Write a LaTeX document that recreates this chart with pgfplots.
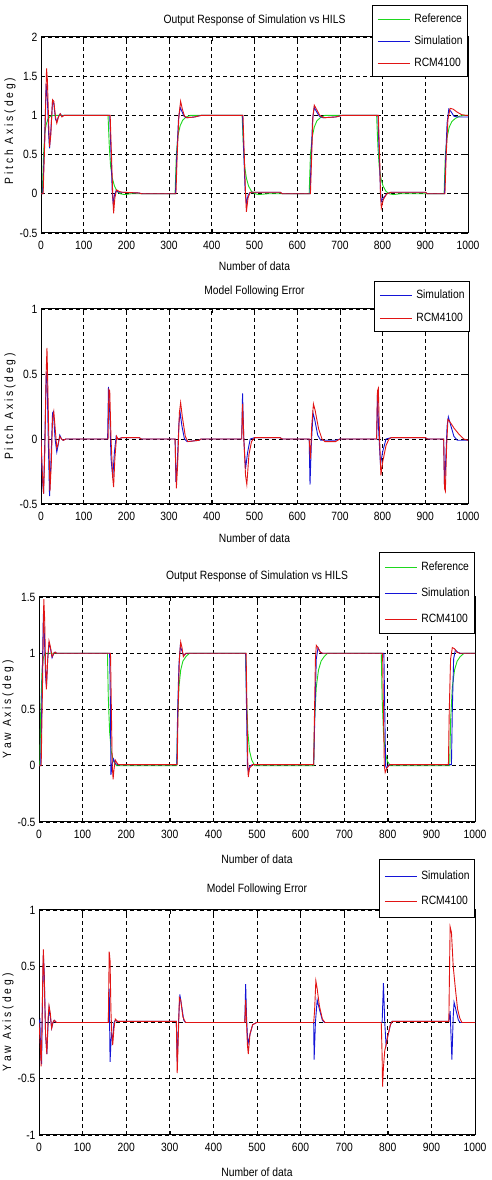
\documentclass[border=0pt]{standalone}
\usepackage{fontspec}
\setmainfont{Liberation Sans}[FakeStretch=0.86]
\usepackage{pgfplots}
\pgfplotsset{compat=1.18}

\definecolor{refg}{RGB}{30,215,30}
\definecolor{simb}{RGB}{20,20,215}
\definecolor{rcmr}{RGB}{225,20,20}

\pgfplotsset{
  panel/.style={
    scale only axis,
    xmin=0, xmax=1000,
    xtick={0,100,...,1000},
    grid=major,
    major grid style={black, dash pattern=on 4pt off 3pt, line width=0.7pt},
    axis line style={line width=1pt},
    tick style={black, line width=0.6pt},
    tick align=inside,
    major tick length=4pt,
    font=\fontsize{12}{14}\selectfont,
    /pgf/number format/assume math mode=true,
    /pgf/number format/1000 sep={},
    xticklabel style={yshift=-5pt},
    xlabel={Number of data},
    xlabel style={at={(axis description cs:0.5,0)}, anchor=center},
    ylabel style={anchor=center},
    title style={at={(axis description cs:0.5,1)}, anchor=center},
    every axis plot/.append style={line width=0.9pt},
    legend cell align=left,
    legend image code/.code={\draw[#1] (0pt,0pt) -- (32pt,0pt);},
    legend style={at={(axis description cs:1,1)}, anchor=north east,
      draw=black, line width=1pt, fill=white,
      inner xsep=5pt, column sep=4pt,
      font=\fontsize{12}{14}\selectfont,
      nodes={inner sep=0pt, text height=9pt, text depth=2pt}},
  }
}

\begin{document}
\begin{tikzpicture}
\useasboundingbox (0,0) rectangle (492pt,1180pt);

% ---------------- Pitch: output response ----------------
\begin{axis}[panel,
  at={(41pt,947pt)}, anchor=south west,
  width=427pt, height=196pt,
  ymin=-0.5, ymax=2, ytick={-0.5,0,0.5,1,1.5,2},
  title={Output Response of Simulation vs HILS}, title style={yshift=11pt},
  xlabel style={yshift=-33pt},
  ylabel={P i t c h \ A x i s ( d e g )},
  ylabel style={at={(axis description cs:-0.0726,0.52)}},
  legend style={yshift=32pt, inner ysep=8pt, row sep=11pt}]
\addplot[refg] coordinates {
(0,0) (3,0) (6,0.5) (9,0.78) (12,0.88) (16,0.95) (22,0.99) (30,1) (157,1) (160,0.6)
(163,0.35) (167,0.2) (172,0.1) (178,0.03) (186,0) (195,-0.01) (210,0) (314,0) (317,0.5)
(321,0.75) (326,0.87) (332,0.94) (340,0.98) (350,1) (471,1) (474,0.6) (477,0.35) (481,0.2)
(486,0.1) (493,0.03) (502,0) (510,-0.01) (530,0) (628,0) (631,0.5) (635,0.72) (640,0.85)
(646,0.93) (654,0.97) (665,1) (786,1) (789,0.6) (792,0.35) (796,0.2) (801,0.1) (808,0.03)
(816,0) (825,-0.01) (840,0) (944,0) (947,0.5) (951,0.72) (956,0.85) (962,0.92) (970,0.96)
(980,0.99) (990,1) (1000,1)};
\addplot[simb] coordinates {
(0,0) (4,0) (8,0.6) (12,1.4) (15,1.2) (18,0.75) (20,0.58) (23,0.8) (27,1.18) (30,1.15)
(34,0.95) (37,0.92) (41,0.99) (45,1.02) (49,0.99) (54,1.0) (161,1) (164,0.5) (167,0.0)
(169,-0.12) (172,-0.02) (176,0.04) (182,0.02) (190,0.02) (230,0.01) (236,0) (315,0)
(318,0.5) (322,0.95) (326,1.1) (330,1.05) (335,0.99) (340,0.97) (360,0.98) (375,1.0)
(472,1) (475,0.5) (478,0.05) (481,-0.12) (485,-0.02) (490,0.02) (560,0.02) (565,0)
(630,0) (633,0.5) (636,0.95) (640,1.1) (645,1.05) (652,0.99) (660,0.97) (690,0.98)
(705,1) (789,1) (792,0.5) (795,0.05) (797,-0.1) (802,-0.05) (810,0) (820,0.02) (900,0.02)
(905,0) (945,0) (948,0.5) (951,0.9) (955,1.08) (960,1.05) (967,0.99) (975,0.98) (1000,0.98)};
\addplot[rcmr] coordinates {
(0,0) (5,0) (9,0.7) (13,1.6) (15,1.45) (18,0.9) (20,0.6) (23,0.75) (27,1.2) (30,1.18)
(34,0.98) (37,0.9) (41,0.98) (45,1.02) (49,0.98) (54,1.0) (162,1) (165,0.5) (168,0.0)
(170,-0.25) (173,-0.05) (177,0.05) (183,0.03) (190,0.02) (230,0.01) (236,0) (316,0)
(319,0.5) (323,1.0) (327,1.18) (331,1.08) (336,0.99) (342,0.97) (360,0.98) (375,1.0)
(473,1) (476,0.5) (479,0.0) (481,-0.23) (485,-0.05) (490,0.02) (560,0.02) (565,0)
(631,0) (634,0.5) (637,1.0) (640,1.13) (646,1.07) (653,1.0) (662,0.97) (690,0.98)
(705,1) (790,1) (793,0.5) (795,0.0) (797,-0.18) (802,-0.07) (810,0) (820,0.02) (900,0.02)
(905,0) (946,0) (949,0.5) (953,0.95) (958,1.09) (965,1.08) (975,1.04) (985,1.01)
(995,1.0) (1000,1.0)};
\legend{Reference, Simulation, RCM4100}
\end{axis}

% ---------------- Pitch: model following error ----------------
\begin{axis}[panel,
  at={(41pt,676pt)}, anchor=south west,
  width=427pt, height=195pt,
  ymin=-0.5, ymax=1, ytick={-0.5,0,0.5,1},
  title={Model Following Error}, title style={yshift=12pt},
  xlabel style={yshift=-34pt},
  ylabel={P i t c h \ A x i s ( d e g )},
  ylabel style={at={(axis description cs:-0.0726,0.5)}},
  legend style={yshift=28pt, xshift=2pt, inner ysep=8pt, row sep=12pt}]
\addplot[simb] coordinates {
(0,0) (3,-0.3) (6,-0.42) (9,0.0) (12,0.48) (14,0.52) (17,0.0) (20,-0.44) (23,-0.2)
(27,0.2) (29,0.21) (33,0.0) (37,-0.1) (40,-0.05) (44,0.03) (48,0.0) (52,-0.01) (58,0)
(156,0) (158,0.4) (161,0.2) (164,-0.15) (168,-0.3) (172,-0.1) (176,0.02) (180,0.0)
(190,0.01) (230,0.01) (235,0) (314,0) (316,-0.33) (319,-0.2) (323,0.12) (326,0.2)
(330,0.1) (336,0.0) (342,-0.02) (370,-0.01) (375,0) (470,0) (472,0.35) (475,0.0)
(479,-0.23) (484,-0.1) (490,0) (500,0.01) (560,0.01) (565,0) (628,0) (630,-0.35)
(633,-0.05) (637,0.2) (641,0.15) (648,0.03) (655,-0.01) (690,-0.01) (700,0) (786,0)
(788,0.35) (791,0.05) (795,-0.2) (800,-0.1) (808,0) (820,0.01) (900,0.01) (905,0)
(943,0) (945,-0.38) (948,-0.15) (951,0.1) (954,0.17) (960,0.1) (967,0.02) (975,-0.01)
(1000,-0.01)};
\addplot[rcmr] coordinates {
(0,0) (3,-0.25) (6,-0.42) (9,-0.1) (12,0.5) (14,0.7) (16,0.4) (19,-0.1) (21,-0.4)
(24,-0.2) (27,0.15) (30,0.21) (34,0.05) (37,-0.07) (40,-0.04) (44,0.02) (48,0.0)
(52,-0.01) (58,0) (157,0) (159,0.38) (161,0.37) (164,0.0) (168,-0.3) (170,-0.37)
(173,-0.15) (177,0.02) (180,0.0) (190,0.01) (230,0.01) (235,0) (314,0) (317,-0.38)
(320,-0.2) (324,0.2) (327,0.28) (331,0.17) (338,0.02) (344,-0.02) (370,-0.01) (375,0)
(470,0) (472,0.27) (475,0.0) (479,-0.28) (482,-0.35) (487,-0.12) (493,-0.02) (500,0.01)
(560,0.01) (565,0) (628,0) (631,-0.15) (634,0.1) (638,0.27) (642,0.22) (650,0.08)
(658,0.0) (665,-0.02) (690,-0.02) (700,0) (786,0) (788,0.37) (790,0.39) (793,0.0)
(796,-0.28) (800,-0.18) (808,-0.05) (815,0.0) (820,0.01) (900,0.01) (905,0) (943,0)
(945,-0.38) (947,-0.4) (950,-0.05) (953,0.15) (958,0.13) (968,0.08) (978,0.04) (990,0.0)
(1000,-0.01)};
\legend{Simulation, RCM4100}
\end{axis}

% ---------------- Yaw: output response ----------------
\begin{axis}[panel,
  at={(39pt,358pt)}, anchor=south west,
  width=436pt, height=225pt,
  ymin=-0.5, ymax=1.5, ytick={-0.5,0,0.5,1,1.5},
  title={Output Response of Simulation vs HILS}, title style={yshift=15pt},
  xlabel style={yshift=-37pt},
  ylabel={Y a w \ A x i s ( d e g )},
  ylabel style={at={(axis description cs:-0.0711,0.5)}},
  legend style={yshift=45pt, inner ysep=9pt, row sep=15pt}]
\addplot[refg] coordinates {
(0,0) (2,0) (4,0.5) (7,0.85) (10,0.96) (14,1) (157,1) (159,0.6) (162,0.3) (166,0.12)
(171,0.04) (178,0) (316,0) (318,0.4) (321,0.7) (325,0.85) (330,0.93) (337,0.97) (345,1)
(474,1) (476,0.6) (479,0.3) (483,0.13) (488,0.05) (495,0) (630,0) (632,0.4) (636,0.7)
(641,0.85) (647,0.93) (654,0.97) (662,1) (785,1) (787,0.6) (790,0.3) (794,0.12)
(799,0.04) (806,0) (942,0) (944,0.4) (948,0.7) (953,0.85) (959,0.93) (966,0.97) (975,1)
(1000,1)};
\addplot[simb] coordinates {
(0,0) (4,0) (7,0.7) (10,1.35) (12,1.2) (15,0.8) (17,0.7) (20,0.95) (23,1.08) (26,1.05)
(30,0.96) (34,1.0) (37,1.01) (40,1.0) (162,1) (164,0.5) (165,-0.08) (168,0.02) (171,0.06)
(175,0.02) (180,0.01) (316,0.01) (318,0.5) (321,0.9) (324,1.06) (328,1.02) (332,0.98)
(338,1.0) (474,1) (476,0.5) (478,0.0) (480,-0.05) (484,0.0) (490,0.01) (630,0.01)
(633,0.5) (636,0.95) (640,1.05) (645,1.01) (650,1.0) (791,1) (793,0.5) (795,0.0)
(797,-0.02) (803,0.01) (946,0.01) (948,0.5) (951,0.95) (955,1.03) (960,1.01) (966,1.0)
(1000,1)};
\addplot[rcmr] coordinates {
(0,0) (5,0) (8,0.7) (11,1.48) (13,1.3) (15,0.9) (17,0.68) (20,0.95) (23,1.11) (26,1.06)
(30,0.97) (34,1.0) (37,1.01) (40,1.0) (164,1) (166,0.5) (168,0.0) (170,-0.12) (172,-0.03)
(175,0.05) (178,0.03) (182,0.01) (317,0.01) (319,0.5) (322,0.95) (325,1.1) (328,1.05)
(331,0.97) (336,1.0) (475,1) (477,0.5) (479,0.0) (480,-0.1) (483,-0.02) (490,0.01)
(630,0.01) (632,0.5) (634,0.95) (636,1.07) (640,1.05) (645,1.01) (650,1.0) (788,1)
(790,0.5) (792,0.0) (794,-0.06) (798,-0.02) (805,0.01) (939,0.01) (941,0.5) (944,0.95)
(948,1.05) (953,1.04) (958,1.01) (965,1.0) (1000,1)};
\legend{Reference, Simulation, RCM4100}
\end{axis}

% ---------------- Yaw: model following error ----------------
\begin{axis}[panel,
  at={(39pt,45pt)}, anchor=south west,
  width=436pt, height=225pt,
  ymin=-1, ymax=1, ytick={-1,-0.5,0,0.5,1},
  title={Model Following Error}, title style={yshift=15pt},
  xlabel style={yshift=-37pt},
  ylabel={Y a w \ A x i s ( d e g )},
  ylabel style={at={(axis description cs:-0.0711,0.5)}},
  legend style={yshift=51pt, inner ysep=11pt, row sep=14pt}]
\addplot[simb] coordinates {
(0,0) (2,0.02) (4,-0.3) (6,-0.37) (8,0.2) (10,0.6) (12,0.45) (15,-0.1) (18,-0.28) (21,0.0)
(23,0.13) (26,0.05) (29,-0.05) (32,0.0) (35,0.02) (40,0) (159,0) (161,0.3) (163,-0.35)
(166,-0.1) (169,-0.15) (172,0.0) (175,0.02) (180,0.01) (315,0.01) (317,-0.35) (320,0.0)
(323,0.25) (327,0.15) (332,0.02) (336,0) (472,0) (474,0.34) (476,0.05) (479,-0.2)
(483,-0.12) (490,-0.02) (499,0) (630,0) (631,-0.33) (634,0.0) (638,0.2) (643,0.12)
(650,0.02) (655,0) (787,0) (790,0.35) (793,0.0) (796,-0.2) (800,-0.12) (806,-0.02)
(810,0.01) (940,0.01) (943,0.1) (947,-0.33) (950,0.05) (952,0.18) (957,0.1) (962,0.02)
(966,0) (1000,0)};
\addplot[rcmr] coordinates {
(0,0) (3,-0.2) (5,-0.39) (7,0.0) (9,0.5) (10,0.65) (12,0.4) (15,-0.1) (18,-0.28) (21,0.05)
(23,0.15) (26,0.08) (29,-0.05) (32,0.0) (35,0.02) (40,0) (159,0) (161,0.63) (163,0.55)
(165,0.1) (167,-0.1) (169,-0.2) (172,-0.05) (175,0.03) (180,0.01) (315,0.01) (317,-0.45)
(319,-0.2) (322,0.22) (325,0.2) (330,0.05) (336,0) (472,0) (474,0.2) (476,0.0) (478,-0.2)
(480,-0.28) (484,-0.1) (490,-0.02) (499,0) (630,0) (632,0.1) (635,0.37) (638,0.3)
(643,0.15) (650,0.03) (656,0) (785,0) (787,-0.3) (788,-0.57) (790,-0.4) (793,-0.25)
(796,-0.2) (800,-0.12) (806,-0.02) (810,0.01) (940,0.01) (942,0.6) (943,0.85) (946,0.8)
(950,0.5) (955,0.3) (960,0.12) (965,0.04) (970,0) (1000,0)};
\legend{Simulation, RCM4100}
\end{axis}
\end{tikzpicture}
\end{document}
